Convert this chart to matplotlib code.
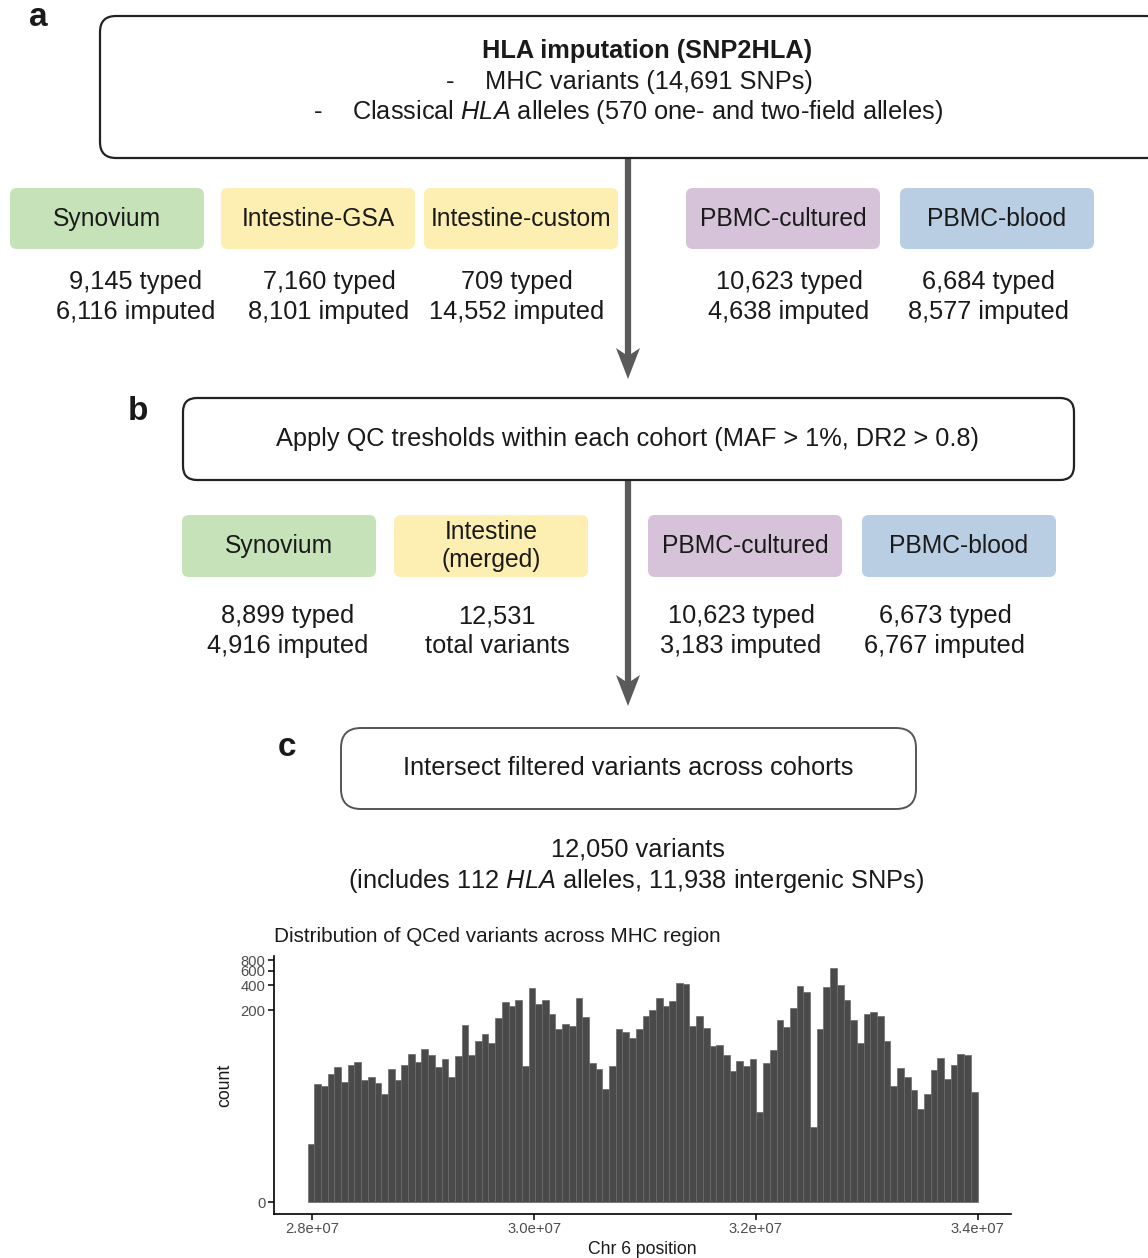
import numpy as np
import matplotlib
matplotlib.use('Agg')
import matplotlib.pyplot as plt
from matplotlib.patches import FancyBboxPatch, Polygon

plt.rcParams['font.family'] = ['Liberation Sans', 'DejaVu Sans']
plt.rcParams['mathtext.fontset'] = 'custom'
plt.rcParams['mathtext.rm'] = 'Liberation Sans'
plt.rcParams['mathtext.it'] = 'Liberation Sans:italic'

# Cohorts after imputation
cohorts_a = ['Synovium', 'Intestine-GSA', 'Intestine-custom', 'PBMC-cultured', 'PBMC-blood']
typed_a = [9145, 7160, 709, 10623, 6684]
imputed_a = [6116, 8101, 14552, 4638, 8577]

# Cohorts after QC (intestine arrays merged)
cohorts_b = ['Synovium', 'Intestine\n(merged)', 'PBMC-cultured', 'PBMC-blood']
typed_b = [8899, None, 10623, 6673]
imputed_b = [4916, None, 3183, 6767]
merged_total = 12531

n_snps = 14691
n_alleles = 570
n_final = 12050
n_hla = 112
n_snp_final = 11938

# Histogram of QCed variant positions (100 bins)
bin_start = 27.955e6
bin_end = 34.0e6
counts = [4, 25, 24, 34, 41, 27, 43, 47, 28, 31,
          26, 19, 39, 28, 43, 60, 47, 68, 58, 41,
          51, 31, 56, 133, 58, 85, 103, 81, 164, 249,
          225, 263, 42, 371, 238, 263, 182, 120, 138, 131,
          281, 167, 46, 39, 22, 42, 120, 110, 93, 120,
          170, 201, 284, 227, 261, 423, 415, 129, 170, 123,
          74, 77, 58, 37, 48, 42, 52, 11, 46, 67,
          151, 127, 215, 392, 329, 7, 119, 378, 652, 407,
          266, 155, 81, 179, 189, 170, 86, 24, 40, 31,
          21, 12, 19, 38, 53, 29, 44, 60, 58, 20]
y_ticks = [0, 200, 400, 600, 800]
x_ticks = [2.8e7, 3.0e7, 3.2e7, 3.4e7]
x_ticklabels = ['2.8e+07', '3.0e+07', '3.2e+07', '3.4e+07']

fill_colors = {'Synovium': '#C6E2B8', 'Intestine': '#FDEEB1',
               'PBMC-cultured': '#D6C3DA', 'PBMC-blood': '#B9CDE3'}
txt = '#1a1a1a'
arrow_col = '#5a5a5a'
fs = 18.3      # body text
fs_box = 17.7  # cohort names

W, H = 1148, 1258
fig = plt.figure(figsize=(W / 100, H / 100), dpi=100)
ax = fig.add_axes([0, 0, 1, 1])
ax.set_xlim(0, W)
ax.set_ylim(H, 0)
ax.axis('off')


def rbox(x0, y0, x1, y1, fc='white', ec='none', lw=0, r=8):
    p = FancyBboxPatch((x0, y0), x1 - x0, y1 - y0,
                       boxstyle=f'round,pad=0,rounding_size={r}',
                       fc=fc, ec=ec, lw=lw, zorder=2)
    ax.add_patch(p)


def down_arrow(x, y0, y1):
    ax.plot([x, x], [y0, y1 - 20], color=arrow_col, lw=4.5, solid_capstyle='butt', zorder=1)
    head = Polygon([(x - 12, y1 - 31), (x, y1 - 23), (x + 12, y1 - 31), (x, y1)],
                   closed=True, fc=arrow_col, ec='none', zorder=1)
    ax.add_patch(head)


def fill_for(name):
    return fill_colors['Intestine'] if name.startswith('Intestine') else fill_colors[name]


# ---- panel a ----
ax.text(38, 18, 'a', fontsize=24, fontweight='bold', ha='center', va='center', color=txt)
rbox(100, 16, 1162, 158, ec='#222222', lw=1.6, r=16)
ax.text(647, 51, 'HLA imputation (SNP2HLA)', fontsize=fs, fontweight='bold',
        ha='center', va='center', color=txt)
ax.text(450, 82, '-', fontsize=fs, ha='center', va='center', color=txt)
ax.text(485, 82, f'MHC variants ({n_snps:,} SNPs)', fontsize=fs,
        ha='left', va='center', color=txt)
ax.text(318, 112, '-', fontsize=fs, ha='center', va='center', color=txt)
ax.text(352, 112, r'Classical $\mathit{HLA}$ alleles' + f' ({n_alleles} one- and two-field alleles)',
        fontsize=fs, ha='left', va='center', color=txt)

down_arrow(628, 158, 379)

box_x_a = [10, 221, 424, 686, 900]
stat_x_a = [136, 329, 517, 789, 989]
for name, bx, sx, t, i in zip(cohorts_a, box_x_a, stat_x_a, typed_a, imputed_a):
    rbox(bx, 188, bx + 194, 249, fc=fill_for(name), r=7)
    ax.text(bx + 97, 219, name, fontsize=fs_box, ha='center', va='center', color=txt, zorder=3)
    ax.text(sx, 297, f'{t:,} typed\n{i:,} imputed', fontsize=fs, ha='center',
            va='center', color=txt, linespacing=1.27)

# ---- panel b ----
ax.text(138, 412, 'b', fontsize=24, fontweight='bold', ha='center', va='center', color=txt)
rbox(183, 398, 1074, 480, ec='#222222', lw=1.6, r=14)
ax.text(628, 439, 'Apply QC tresholds within each cohort (MAF > 1%, DR2 > 0.8)',
        fontsize=fs, ha='center', va='center', color=txt)

down_arrow(628, 480, 706)

box_x_b = [182, 394, 648, 862]
stat_x_b = [288, 497, 741, 945]
for name, bx, sx, t, i in zip(cohorts_b, box_x_b, stat_x_b, typed_b, imputed_b):
    rbox(bx, 515, bx + 194, 577, fc=fill_for(name), r=7)
    ax.text(bx + 97, 546, name, fontsize=fs_box, ha='center', va='center', color=txt,
            linespacing=1.2, zorder=3)
    if t is None:
        s = f'{merged_total:,}\ntotal variants'
    else:
        s = f'{t:,} typed\n{i:,} imputed'
    ax.text(sx, 631, s, fontsize=fs, ha='center', va='center', color=txt, linespacing=1.27)

# ---- panel c ----
ax.text(287, 747, 'c', fontsize=24, fontweight='bold', ha='center', va='center', color=txt)
rbox(341, 728, 916, 809, ec='#555555', lw=1.4, r=20)
ax.text(628, 768, 'Intersect filtered variants across cohorts', fontsize=fs,
        ha='center', va='center', color=txt)
ax.text(638, 850, f'{n_final:,} variants', fontsize=fs, ha='center', va='center', color=txt)
ax.text(636, 881, f'(includes {n_hla} ' + r'$\mathit{HLA}$' + f' alleles, {n_snp_final:,} intergenic SNPs)',
        fontsize=fs, ha='center', va='center', color=txt)

# ---- histogram ----
edges = np.linspace(bin_start, bin_end, len(counts) + 1)
hx = fig.add_axes([274 / W, (H - 1214) / H, (1011 - 274) / W, (1214 - 956) / H])
hx.set_yscale('function', functions=(lambda y: np.log10(np.clip(y, -0.99, None) + 1),
                                     lambda y: 10 ** y - 1))
hx.bar(edges[:-1], counts, width=np.diff(edges), align='edge',
       color='#4a4a4a', edgecolor='#6a6a6a', linewidth=0.5)
span = bin_end - bin_start
hx.set_xlim(bin_start - 0.05 * span, bin_end + 0.05 * span)
top = np.log10(max(counts) + 1)
hx.set_ylim(10 ** (-0.05 * top) - 1, 10 ** (1.05 * top) - 1)
hx.set_yticks(y_ticks)
hx.set_xticks(x_ticks)
hx.set_xticklabels(x_ticklabels)
hx.minorticks_off()
for s in ['top', 'right']:
    hx.spines[s].set_visible(False)
for s in ['left', 'bottom']:
    hx.spines[s].set_linewidth(1.2)
hx.tick_params(axis='both', length=4, width=1.1, labelsize=10.6, labelcolor='#4d4d4d', pad=2)
hx.set_ylabel('count', fontsize=12.7, color=txt, labelpad=5)
hx.set_xlabel('Chr 6 position', fontsize=12.7, color=txt, labelpad=3)
hx.set_title('Distribution of QCed variants across MHC region', fontsize=14.9,
             loc='left', color=txt, pad=10)
hx.patch.set_alpha(0)

fig.savefig('out.png', dpi=100)
